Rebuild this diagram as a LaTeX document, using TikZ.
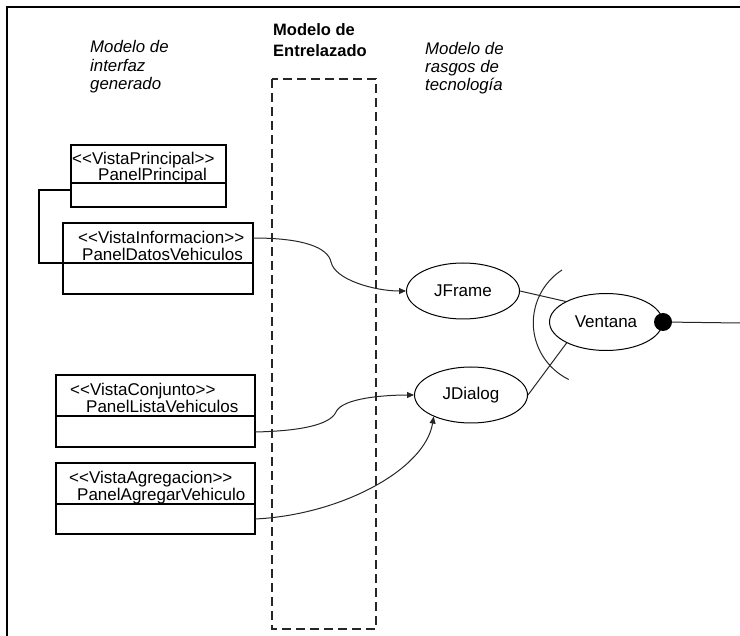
\documentclass[tikz,border=0pt]{standalone}
\usepackage{fontspec}
\setmainfont{Liberation Sans}
\usetikzlibrary{arrows.meta,shapes.geometric}
\begin{document}
\begin{tikzpicture}[x=1pt,y=-1pt,
  every node/.style={inner sep=0pt, font=\fontsize{17}{19}\selectfont},
  txt/.style={anchor=base west},
  ital/.style={txt, font=\fontsize{16.8}{19}\selectfont\itshape},
  bold/.style={txt, font=\fontsize{16.5}{19}\selectfont\bfseries},
  umlbox/.style={draw, rectangle, line width=1.1pt},
  divider/.style={line width=1.1pt},
  ell/.style={draw, ellipse, line width=1pt, minimum width=113pt, minimum height=56pt},
  conn/.style={line width=1pt, draw=black!85},
  arr/.style={conn, -{Triangle[length=7pt,width=6pt]}},
  frame/.style={dashed, line width=1.1pt, dash pattern=on 9pt off 5pt, draw=black!85}
]
\useasboundingbox (0,0) rectangle (740,636);
% outer border
\draw[line width=1.6pt] (740,7) -- (7,7) -- (7,636);
% interlacing frame
\draw[frame] (272,79) rectangle (376,629);

% titles
\node[ital] (t1a) at (90,53) {Modelo de};
\node[ital] (t1b) at (90,72) {interfaz};
\node[ital] (t1c) at (90,90) {generado};
\node[bold] (t2a) at (273,36) {Modelo de};
\node[bold] (t2b) at (273,57) {Entrelazado};
\node[ital] (t3a) at (425,55) {Modelo de};
\node[ital] (t3b) at (425,73) {rasgos de};
\node[ital] (t3c) at (425,91) {tecnología};

% class boxes
\node[umlbox, minimum width=155pt, minimum height=62pt] (b1) at (148.5,176) {};
\node[umlbox, minimum width=190pt, minimum height=71pt] (b2) at (158,258.5) {};
\node[umlbox, minimum width=199pt, minimum height=72pt] (b3) at (155.5,411) {};
\node[umlbox, minimum width=199pt, minimum height=71pt] (b4) at (155.5,498.5) {};
\coordinate (d1) at (0,183);
\coordinate (d2) at (0,263);
\coordinate (d3) at (0,416);
\coordinate (d4) at (0,504);
\draw[divider] (b1.west |- d1) -- (b1.east |- d1);
\draw[divider] (b2.west |- d2) -- (b2.east |- d2);
\draw[divider] (b3.west |- d3) -- (b3.east |- d3);
\draw[divider] (b4.west |- d4) -- (b4.east |- d4);

\node[txt] (s1a) at (72,165) {<\kern0pt<VistaPrincipal>\kern0pt>};
\node[txt] (s1b) at (98,181) {PanelPrincipal};
\node[txt] (s2a) at (78,244) {<\kern0pt<VistaInformacion>\kern0pt>};
\node[txt] (s2b) at (82,261) {PanelDatosVehiculos};
\node[txt] (s3a) at (70,396) {<\kern0pt<VistaConjunto>\kern0pt>};
\node[txt] (s3b) at (86,413) {PanelListaVehiculos};
\node[txt] (s4a) at (69,484) {<\kern0pt<VistaAgregacion>\kern0pt>};
\node[txt] (s4b) at (77,501) {PanelAgregarVehiculo};

% link between box 1 and box 2
\coordinate (k1) at (0,190);
\coordinate (elbow) at (39,263);
\draw[divider] (b1.west |- k1) -| (elbow) -- (b2.west |- elbow);

% technology features
\node[ell] (jf) at (463,291) {JFrame};
\node[ell] (jd) at (471,395) {JDialog};
\node[ell, minimum height=57pt] (ve) at (606,322) {Ventana};
\node[circle, fill=black, minimum size=18pt] (dot) at (ve.east) {};
\coordinate (rightend) at (740,323);
\draw[conn] (dot) -- (rightend);
\draw[conn] (jf.east) -- (ve.153);
\draw[conn] (jd.east) -- (ve.208);
\coordinate (arcS) at (562,270);
\draw[conn] (arcS) arc[start angle=123, end angle=244, radius=63pt];

% mapping arrows
\coordinate (c1) at (253,238);
\coordinate (m1) at (331,262);
\coordinate (c2) at (255,432);
\coordinate (m2) at (336,412);
\coordinate (c3) at (255,519);
\draw[arr] (c1) .. controls (305,238) and (328,248) .. (m1)
                .. controls (335,280) and (375,291) .. (jf.west);
\draw[arr] (c2) .. controls (300,431) and (330,425) .. (m2)
                .. controls (342,398) and (385,395) .. (jd.west);
\draw[arr] (c3) .. controls (340,515) and (425,470) .. (jd.210);
\end{tikzpicture}
\end{document}
